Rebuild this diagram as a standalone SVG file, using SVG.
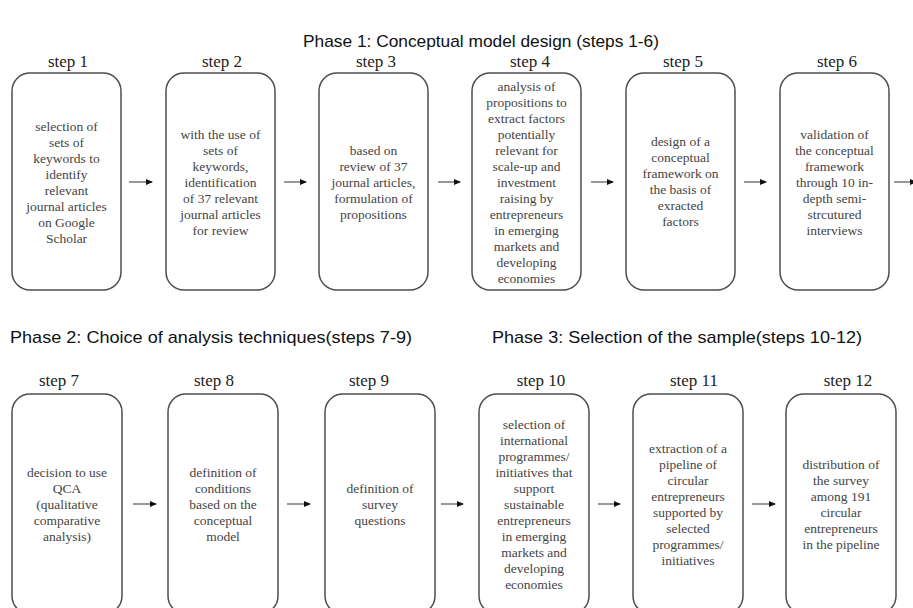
<svg xmlns="http://www.w3.org/2000/svg" width="913" height="608" viewBox="0 0 913 608">
<style>
.bg{fill:#ffffff}
.box{fill:#ffffff;stroke:#4d4d4d;stroke-width:1.5}
.title{font-family:"Liberation Sans",Arial,sans-serif;font-size:17px;fill:#111}
.lbl{font-family:"Liberation Serif","Times New Roman",serif;font-size:17px;fill:#222;text-anchor:middle}
.txt{font-family:"Liberation Serif","Times New Roman",serif;font-size:13.5px;fill:#444;text-anchor:middle}
.arr{stroke:#555;stroke-width:1.2;fill:none;marker-end:url(#ah)}
</style>
<defs>
<marker id="ah" markerWidth="8" markerHeight="8" refX="6" refY="3" orient="auto" markerUnits="userSpaceOnUse">
<path d="M0,0 L7,3 L0,6 Z" fill="#111"/>
</marker>
</defs>
<rect class="bg" x="0" y="0" width="913" height="608"/>

<g id="titles">
<text class="title" x="303" y="47" textLength="356" lengthAdjust="spacingAndGlyphs">Phase 1: Conceptual model design (steps 1-6)</text>
<text class="title" x="10" y="343" textLength="402" lengthAdjust="spacingAndGlyphs">Phase 2: Choice of analysis techniques(steps 7-9)</text>
<text class="title" x="492" y="343" textLength="370" lengthAdjust="spacingAndGlyphs">Phase 3: Selection of the sample(steps 10-12)</text>
</g>

<g id="step1">
<text class="lbl" x="68" y="67">step 1</text>
<rect class="box" x="12" y="73" width="109" height="217" rx="18"/>
<text class="txt" y="131"><tspan x="66.5">selection of</tspan><tspan x="66.5" dy="16">sets of</tspan><tspan x="66.5" dy="16">keywords to</tspan><tspan x="66.5" dy="16">identify</tspan><tspan x="66.5" dy="16">relevant</tspan><tspan x="66.5" dy="16">journal articles</tspan><tspan x="66.5" dy="16">on Google</tspan><tspan x="66.5" dy="16">Scholar</tspan></text>
</g>

<g id="step2">
<text class="lbl" x="222" y="67">step 2</text>
<rect class="box" x="166" y="73" width="109" height="217" rx="18"/>
<text class="txt" y="139"><tspan x="220.5">with the use of</tspan><tspan x="220.5" dy="16">sets of</tspan><tspan x="220.5" dy="16">keywords,</tspan><tspan x="220.5" dy="16">identification</tspan><tspan x="220.5" dy="16">of 37 relevant</tspan><tspan x="220.5" dy="16">journal articles</tspan><tspan x="220.5" dy="16">for review</tspan></text>
</g>

<g id="step3">
<text class="lbl" x="376" y="67">step 3</text>
<rect class="box" x="319" y="73" width="109" height="217" rx="18"/>
<text class="txt" y="155"><tspan x="373.5">based on</tspan><tspan x="373.5" dy="16">review of 37</tspan><tspan x="373.5" dy="16">journal articles,</tspan><tspan x="373.5" dy="16">formulation of</tspan><tspan x="373.5" dy="16">propositions</tspan></text>
</g>

<g id="step4">
<text class="lbl" x="530" y="67">step 4</text>
<rect class="box" x="472" y="73" width="109" height="217" rx="18"/>
<text class="txt" y="91"><tspan x="526.5">analysis of</tspan><tspan x="526.5" dy="16">propositions to</tspan><tspan x="526.5" dy="16">extract factors</tspan><tspan x="526.5" dy="16">potentially</tspan><tspan x="526.5" dy="16">relevant for</tspan><tspan x="526.5" dy="16">scale-up and</tspan><tspan x="526.5" dy="16">investment</tspan><tspan x="526.5" dy="16">raising by</tspan><tspan x="526.5" dy="16">entrepreneurs</tspan><tspan x="526.5" dy="16">in emerging</tspan><tspan x="526.5" dy="16">markets and</tspan><tspan x="526.5" dy="16">developing</tspan><tspan x="526.5" dy="16">economies</tspan></text>
</g>

<g id="step5">
<text class="lbl" x="683" y="67">step 5</text>
<rect class="box" x="626" y="73" width="109" height="217" rx="18"/>
<text class="txt" y="146"><tspan x="680.5">design of a</tspan><tspan x="680.5" dy="16">conceptual</tspan><tspan x="680.5" dy="16">framework on</tspan><tspan x="680.5" dy="16">the basis of</tspan><tspan x="680.5" dy="16">exracted</tspan><tspan x="680.5" dy="16">factors</tspan></text>
</g>

<g id="step6">
<text class="lbl" x="837" y="67">step 6</text>
<rect class="box" x="780" y="73" width="109" height="217" rx="18"/>
<text class="txt" y="139"><tspan x="834.5">validation of</tspan><tspan x="834.5" dy="16">the conceptual</tspan><tspan x="834.5" dy="16">framework</tspan><tspan x="834.5" dy="16">through 10 in-</tspan><tspan x="834.5" dy="16">depth semi-</tspan><tspan x="834.5" dy="16">strcutured</tspan><tspan x="834.5" dy="16">interviews</tspan></text>
</g>

<g id="step7">
<text class="lbl" x="59" y="386">step 7</text>
<rect class="box" x="12" y="394" width="110" height="220" rx="18"/>
<text class="txt" y="476.5"><tspan x="67">decision to use</tspan><tspan x="67" dy="16">QCA</tspan><tspan x="67" dy="16">(qualitative</tspan><tspan x="67" dy="16">comparative</tspan><tspan x="67" dy="16">analysis)</tspan></text>
</g>

<g id="step8">
<text class="lbl" x="214" y="386">step 8</text>
<rect class="box" x="168" y="394" width="110" height="220" rx="18"/>
<text class="txt" y="476.5"><tspan x="223">definition of</tspan><tspan x="223" dy="16">conditions</tspan><tspan x="223" dy="16">based on the</tspan><tspan x="223" dy="16">conceptual</tspan><tspan x="223" dy="16">model</tspan></text>
</g>

<g id="step9">
<text class="lbl" x="369" y="386">step 9</text>
<rect class="box" x="325" y="394" width="110" height="220" rx="18"/>
<text class="txt" y="492.5"><tspan x="380">definition of</tspan><tspan x="380" dy="16">survey</tspan><tspan x="380" dy="16">questions</tspan></text>
</g>

<g id="step10">
<text class="lbl" x="541" y="386">step 10</text>
<rect class="box" x="479" y="394" width="110" height="220" rx="18"/>
<text class="txt" y="428.5"><tspan x="534">selection of</tspan><tspan x="534" dy="16">international</tspan><tspan x="534" dy="16">programmes/</tspan><tspan x="534" dy="16">initiatives that</tspan><tspan x="534" dy="16">support</tspan><tspan x="534" dy="16">sustainable</tspan><tspan x="534" dy="16">entrepreneurs</tspan><tspan x="534" dy="16">in emerging</tspan><tspan x="534" dy="16">markets and</tspan><tspan x="534" dy="16">developing</tspan><tspan x="534" dy="16">economies</tspan></text>
</g>

<g id="step11">
<text class="lbl" x="694" y="386">step 11</text>
<rect class="box" x="633" y="394" width="110" height="220" rx="18"/>
<text class="txt" y="452.5"><tspan x="688">extraction of a</tspan><tspan x="688" dy="16">pipeline of</tspan><tspan x="688" dy="16">circular</tspan><tspan x="688" dy="16">entrepreneurs</tspan><tspan x="688" dy="16">supported by</tspan><tspan x="688" dy="16">selected</tspan><tspan x="688" dy="16">programmes/</tspan><tspan x="688" dy="16">initiatives</tspan></text>
</g>

<g id="step12">
<text class="lbl" x="848" y="386">step 12</text>
<rect class="box" x="786" y="394" width="110" height="220" rx="18"/>
<text class="txt" y="468.5"><tspan x="841">distribution of</tspan><tspan x="841" dy="16">the survey</tspan><tspan x="841" dy="16">among 191</tspan><tspan x="841" dy="16">circular</tspan><tspan x="841" dy="16">entrepreneurs</tspan><tspan x="841" dy="16">in the pipeline</tspan></text>
</g>

<g id="connectors">
<line class="arr" x1="129" y1="182" x2="152" y2="182"/>
<line class="arr" x1="284" y1="182" x2="306" y2="182"/>
<line class="arr" x1="438" y1="182" x2="460" y2="182"/>
<line class="arr" x1="591" y1="182" x2="613" y2="182"/>
<line class="arr" x1="744" y1="182" x2="766" y2="182"/>
<line class="arr" x1="894" y1="182" x2="916" y2="182"/>
<line class="arr" x1="133" y1="504" x2="156" y2="504"/>
<line class="arr" x1="287" y1="504" x2="310" y2="504"/>
<line class="arr" x1="441" y1="504" x2="463" y2="504"/>
<line class="arr" x1="598" y1="504" x2="620" y2="504"/>
<line class="arr" x1="752" y1="504" x2="775" y2="504"/>
</g>
</svg>
